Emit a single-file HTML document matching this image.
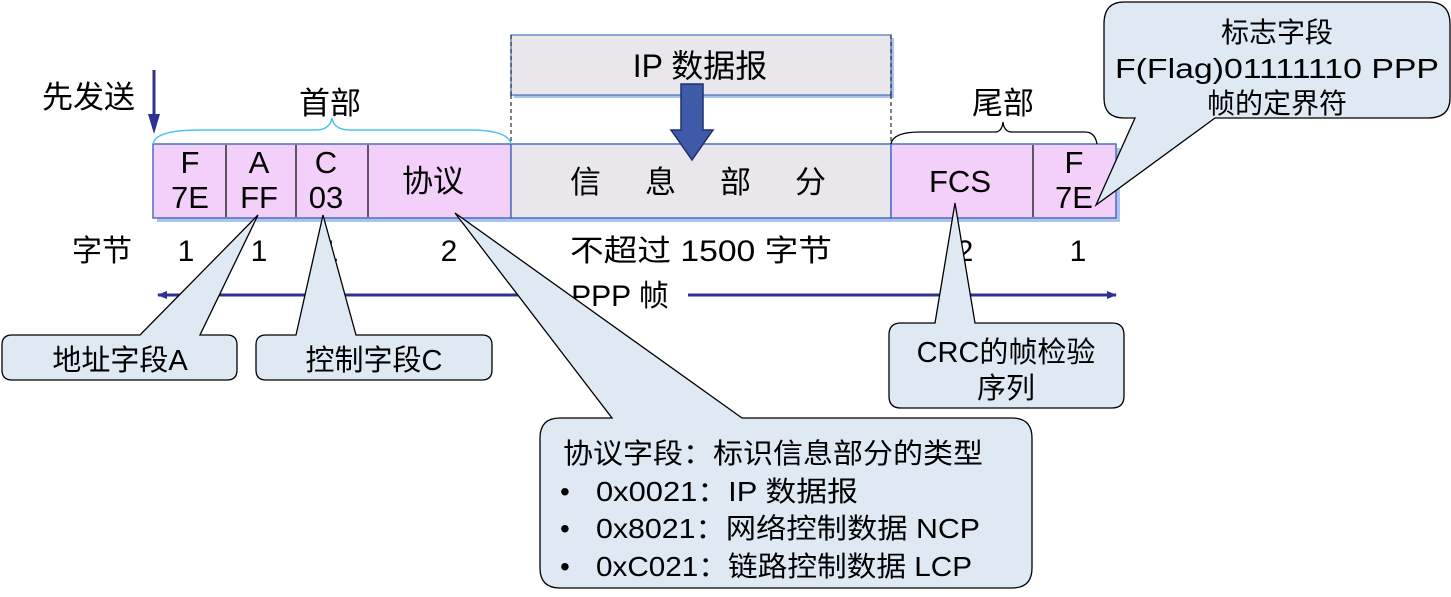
<!DOCTYPE html>
<html><head><meta charset="utf-8"><style>
body{margin:0;background:#fff}
svg text{font-family:"Liberation Sans","Noto Sans CJK SC",sans-serif;fill:#000}
</style></head><body>
<svg width="1451" height="592" viewBox="0 0 1451 592" xmlns="http://www.w3.org/2000/svg">
<defs>
<marker id="ah" markerWidth="10" markerHeight="8" refX="9" refY="4" orient="auto" markerUnits="userSpaceOnUse"><path d="M0,0 L10,4 L0,8 Z" fill="#2e3192"/></marker>
</defs>
<rect x="157" y="148" width="963" height="74" fill="#a9c4ee"/>
<rect x="153" y="144" width="358" height="74" fill="#f2d0fa" stroke="#4a6fc0" stroke-width="1.5"/>
<rect x="511" y="144" width="380" height="74" fill="#e9e7eb" stroke="#4a6fc0" stroke-width="1.5"/>
<rect x="891" y="144" width="225" height="74" fill="#f2d0fa" stroke="#4a6fc0" stroke-width="1.5"/>
<g stroke="#000" stroke-width="1.2">
<line x1="226" y1="145" x2="226" y2="217"/><line x1="296" y1="145" x2="296" y2="217"/><line x1="368" y1="145" x2="368" y2="217"/><line x1="1033" y1="145" x2="1033" y2="217"/>
</g>
<g font-size="31" text-anchor="middle">
<text x="190" y="173">F</text><text x="190" y="208">7E</text>
<text x="259" y="173">A</text><text x="259" y="208">FF</text>
<text x="326" y="173">C</text><text x="326" y="208">03</text>
<text x="433" y="192">协议</text>
<text x="720" y="193" letter-spacing="44">信息部分</text>
<text x="960" y="192">FCS</text>
<text x="1074" y="173">F</text><text x="1074" y="208">7E</text>
</g>
<rect x="514" y="38" width="380" height="60" fill="#a9c4ee"/>
<rect x="511" y="35" width="380" height="60" fill="#e9e7eb" stroke="#4a6fc0" stroke-width="1.2"/>
<text x="700" y="77" font-size="32" text-anchor="middle">IP 数据报</text>
<g stroke="#000" stroke-dasharray="4,3" stroke-width="1"><line x1="511" y1="95" x2="511" y2="144"/><line x1="891" y1="95" x2="891" y2="144"/><line x1="511" y1="35" x2="511" y2="95"/><line x1="891" y1="35" x2="891" y2="95"/></g>
<path d="M681,84 L703,84 L703,130 L713,130 L692,160 L671,130 L681,130 Z" fill="#3f5aa8" stroke="#1f2f6a" stroke-width="1.5"/>
<path d="M153,144 Q155,130 200,130 L315,130 Q330,130 332,118 Q334,130 350,130 L470,130 Q508,130 511,144" fill="none" stroke="#4fc3ee" stroke-width="1.5"/>
<text x="330" y="114" font-size="31" text-anchor="middle">首部</text>
<path d="M891,144 Q893,132 920,132 L995,132 Q1002,132 1003,122 Q1004,132 1012,132 L1085,132 Q1095,132 1097,144" fill="none" stroke="#000" stroke-width="1.3"/>
<text x="1003" y="114" font-size="31" text-anchor="middle">尾部</text>
<text x="42" y="108" font-size="31">先发送</text>
<line x1="154" y1="70" x2="154" y2="122" stroke="#2e3192" stroke-width="3"/>
<path d="M148,114 L160,114 L154,134 Z" fill="#2e3192"/>
<g font-size="30" text-anchor="middle">
<text x="102" y="261">字节</text><text x="186" y="261">1</text><text x="259" y="261">1</text><text x="330" y="261">1</text><text x="449" y="261">2</text>
<text x="701" y="261" textLength="262" lengthAdjust="spacingAndGlyphs">不超过 1500 字节</text><text x="965" y="261">2</text><text x="1078" y="261">1</text>
</g>
<line x1="562" y1="295" x2="158" y2="295" stroke="#2e3192" stroke-width="3" marker-end="url(#ah)"/>
<line x1="688" y1="295" x2="1116" y2="295" stroke="#2e3192" stroke-width="3" marker-end="url(#ah)"/>
<text x="620" y="306" font-size="30" text-anchor="middle">PPP 帧</text>
<g fill="#dfe9f4" stroke="#000" stroke-width="1.3">
<path d="M12,335 L140,335 L258,215 L200,335 L227,335 Q237,335 237,345 L237,370 Q237,380 227,380 L12,380 Q2,380 2,370 L2,345 Q2,335 12,335 Z"/>
<path d="M266,335 L296,335 L323,215 L356,335 L482,335 Q492,335 492,345 L492,370 Q492,380 482,380 L266,380 Q256,380 256,370 L256,345 Q256,335 266,335 Z"/>
<path d="M901,323 L935,323 L955,203 L975,323 L1112,323 Q1124,323 1124,335 L1124,396 Q1124,408 1112,408 L901,408 Q889,408 889,396 L889,335 Q889,323 901,323 Z"/>
<path d="M560,418 L612,418 L455,213 L742,418 L1012,418 Q1032,418 1032,438 L1032,568 Q1032,588 1012,588 L560,588 Q540,588 540,568 L540,438 Q540,418 560,418 Z"/>
<path d="M1124,2 L1428,2 Q1450,2 1450,24 L1450,98 Q1450,118 1428,118 L1215,118 L1096,205 L1135,118 L1124,118 Q1104,118 1104,98 L1104,24 Q1104,2 1124,2 Z"/>
</g>
<g font-size="29" text-anchor="middle">
<text x="120" y="370">地址字段A</text>
<text x="374" y="370">控制字段C</text>
<text x="1006" y="362">CRC的帧检验</text>
<text x="1006" y="398">序列</text>
<text x="1277" y="42" font-size="28">标志字段</text>
<text x="1277" y="78" font-size="28" textLength="324" lengthAdjust="spacingAndGlyphs">F(Flag)01111110 PPP</text>
<text x="1277" y="113" font-size="28">帧的定界符</text>
</g>
<g font-size="28">
<text x="563" y="463" textLength="420" lengthAdjust="spacingAndGlyphs">协议字段：标识信息部分的类型</text>
<text x="560" y="501">•</text><text x="596" y="501" textLength="262" lengthAdjust="spacingAndGlyphs">0x0021：IP 数据报</text>
<text x="560" y="538">•</text><text x="596" y="538" textLength="384" lengthAdjust="spacingAndGlyphs">0x8021：网络控制数据 NCP</text>
<text x="560" y="576">•</text><text x="596" y="576" textLength="376" lengthAdjust="spacingAndGlyphs">0xC021：链路控制数据 LCP</text>
</g>
</svg>
</body></html>
